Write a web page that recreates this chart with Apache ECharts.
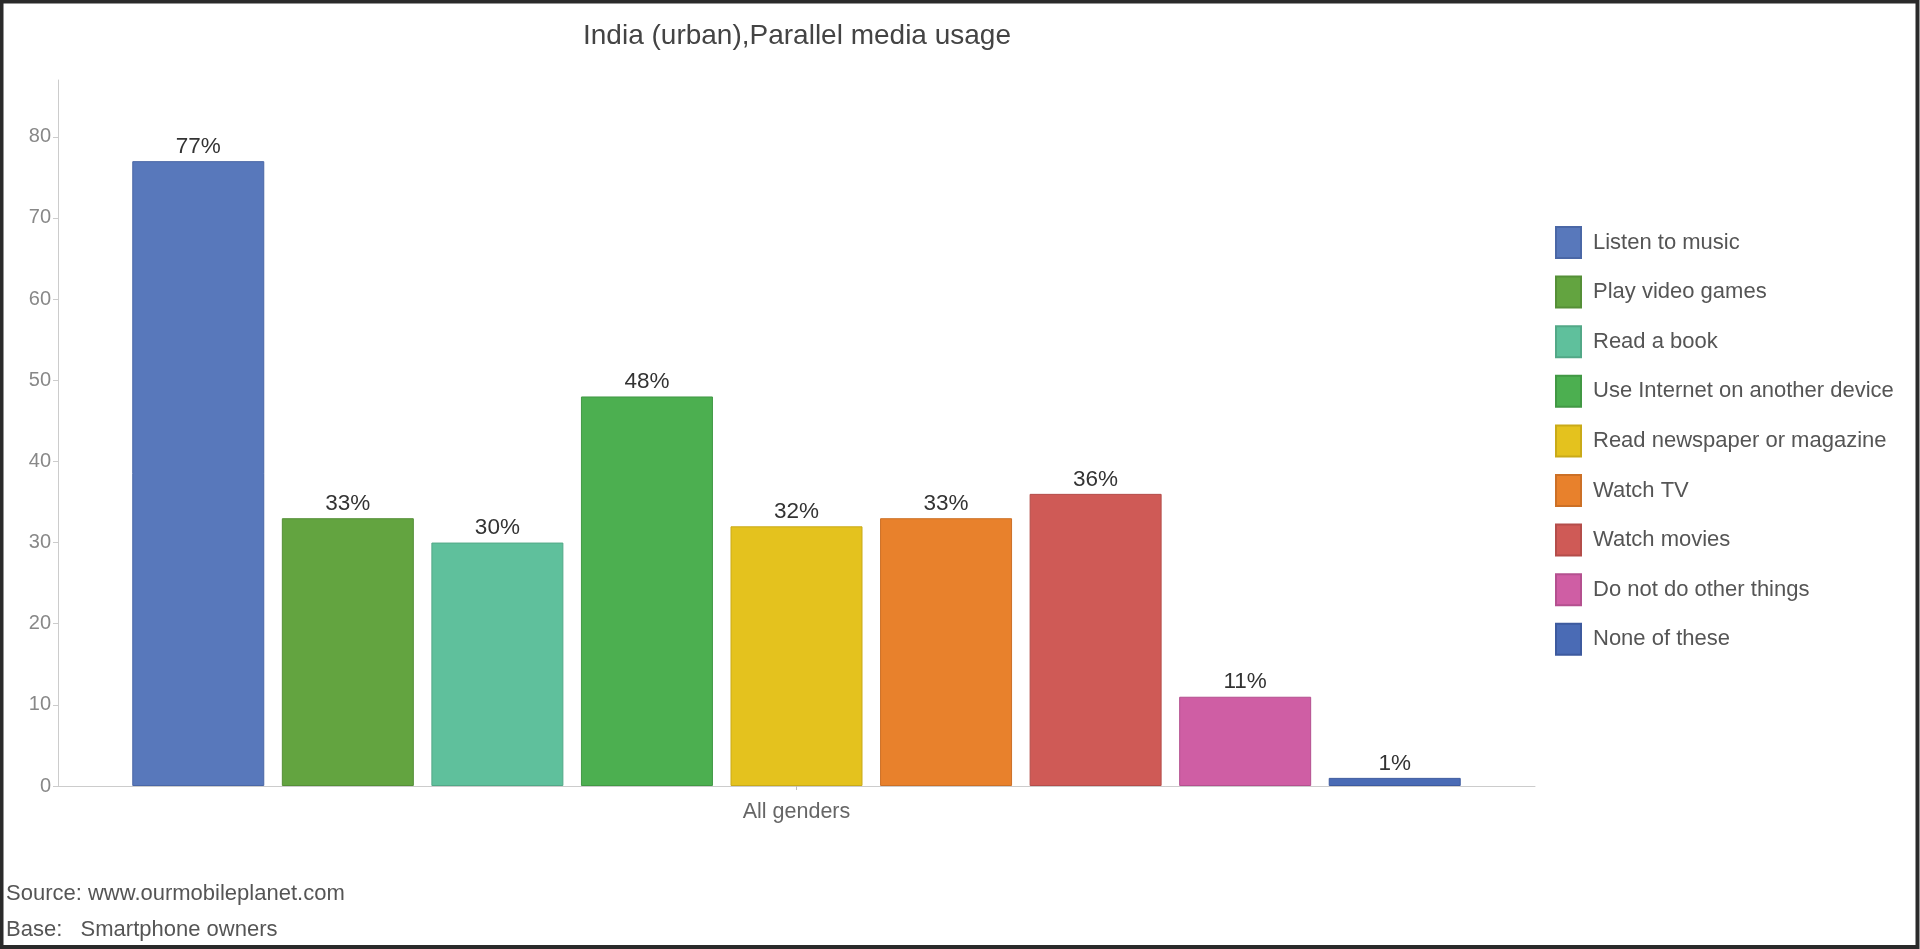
<!DOCTYPE html>
<html>
<head>
<meta charset="utf-8">
<script src="https://cdn.jsdelivr.net/npm/echarts@6/dist/echarts.min.js"></script>
<style>
html,body{margin:0;padding:0;background:#fff;}
#chart{width:1920px;height:949px;}
</style>
</head>
<body>
<div id="chart"></div>
<script>
const titleText = 'India (urban),Parallel media usage';
const categories = ['All genders'];
const seriesNames = ['Listen to music','Play video games','Read a book','Use Internet on another device','Read newspaper or magazine','Watch TV','Watch movies','Do not do other things','None of these'];
const seriesValues = [77, 33, 30, 48, 32, 33, 36, 11, 1];
const seriesColors = ['#5878bb','#63a440','#5fc09c','#4caf50','#e4c21e','#e8812c','#cf5a56','#cf5ea4','#4a6bb5'];
const seriesBorders = ['#4a67a6','#558f37','#52a887','#419844','#c9aa18','#cc7026','#b44d4a','#b4508f','#3d5a9e'];
const yTicks = [0, 10, 20, 30, 40, 50, 60, 70, 80];
const sourceLines = ['Source: www.ourmobileplanet.com', 'Base:   Smartphone owners'];

const FONT = "'Liberation Sans', Arial, sans-serif";

const chart = echarts.init(document.getElementById('chart'));
const series = seriesNames.map((name, i) => ({
  name: name,
  type: 'bar',
  data: [seriesValues[i]],
  barWidth: 132,
  barGap: '13.3%',
  itemStyle: { color: seriesColors[i], borderColor: seriesBorders[i], borderWidth: 1 },
  label: {
    show: true,
    position: 'top',
    distance: 3,
    formatter: '{c}%',
    fontFamily: FONT,
    fontSize: 22.5,
    color: '#333'
  }
}));

chart.setOption({
  animation: false,
  backgroundColor: '#fff',
  title: [
    {
      text: titleText,
      left: 797,
      top: 22,
      padding: 0,
      textAlign: 'center',
      textStyle: { fontFamily: FONT, fontSize: 28, fontWeight: 'normal', color: '#444' }
    },
    {
      text: sourceLines.join('\n'),
      left: 6,
      top: 876,
      padding: 0,
      textStyle: { fontFamily: FONT, fontSize: 22, fontWeight: 'normal', color: '#555', lineHeight: 36 }
    }
  ],
  legend: {
    orient: 'vertical',
    left: 1555,
    top: 226,
    itemWidth: 25,
    itemHeight: 31,
    itemGap: 16.6,
    icon: 'rect',
    selectedMode: false,
    padding: 0,
    textStyle: { fontFamily: FONT, fontSize: 22, color: '#555', lineHeight: 31, padding: [0, 0, 0, 7] },
    data: seriesNames
  },
  grid: { left: 58, right: 385, top: 80, bottom: 163, containLabel: false },
  xAxis: {
    type: 'category',
    data: categories,
    axisLine: { show: true, lineStyle: { color: '#ccc', width: 1 } },
    axisTick: { show: true, alignWithLabel: true, length: 4, lineStyle: { color: '#bbb' } },
    axisLabel: { margin: 15, fontFamily: FONT, fontSize: 21.5, color: '#666' }
  },
  yAxis: {
    type: 'value',
    min: 0,
    max: 87,
    interval: 10,
    axisLine: { show: true, lineStyle: { color: '#ccc', width: 1 } },
    axisTick: { show: true, length: 5, customValues: yTicks, lineStyle: { color: '#ccc' } },
    splitLine: { show: false },
    axisLabel: {
      margin: 7,
      customValues: yTicks,
      fontFamily: FONT,
      fontSize: 20,
      color: '#888'
    }
  },
  graphic: [
    {
      type: 'rect',
      silent: true,
      z: 100,
      shape: { x: 1.5, y: 1.5, width: 1916, height: 945.5 },
      style: { fill: 'none', stroke: '#2a2a2a', lineWidth: 4 }
    }
  ],
  series: series
});
</script>
</body>
</html>
